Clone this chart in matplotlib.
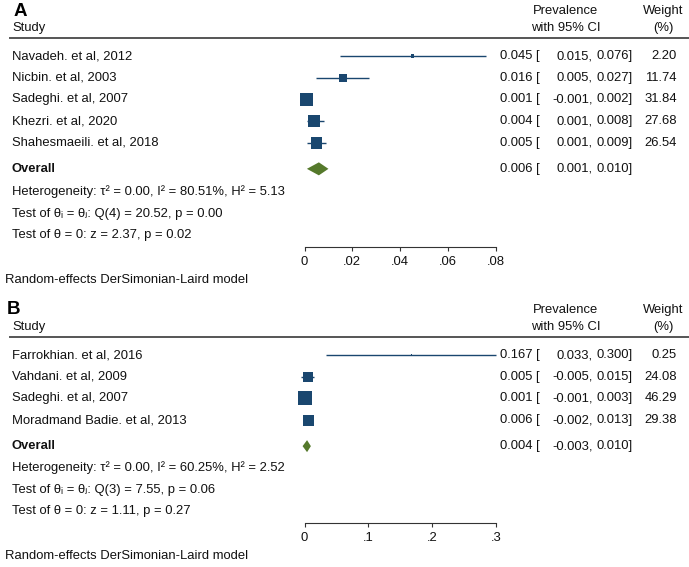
import matplotlib
matplotlib.use("Agg")
import matplotlib.pyplot as plt
import matplotlib.transforms as mtransforms
from matplotlib.patches import Polygon
import numpy as np

plt.rcParams['font.family'] = ['Liberation Sans', 'DejaVu Sans']

# ---------------- data ----------------
A_studies = ["Navadeh. et al, 2012", "Nicbin. et al, 2003", "Sadeghi. et al, 2007",
             "Khezri. et al, 2020", "Shahesmaeili. et al, 2018"]
A_est = [0.045, 0.016, 0.001, 0.004, 0.005]
A_lo = [0.015, 0.005, -0.001, 0.001, 0.001]
A_hi = [0.076, 0.027, 0.002, 0.008, 0.009]
A_w = [2.20, 11.74, 31.84, 27.68, 26.54]
A_overall = [0.006, 0.001, 0.010]
A_stats = ["Heterogeneity: \u03c4\u00b2 = 0.00, I\u00b2 = 80.51%, H\u00b2 = 5.13",
           "Test of \u03b8\u1d62 = \u03b8\u2c7c: Q(4) = 20.52, p = 0.00",
           "Test of \u03b8 = 0: z = 2.37, p = 0.02"]
A_ticks = [0, 0.02, 0.04, 0.06, 0.08]
A_ticklabels = ["0", ".02", ".04", ".06", ".08"]

B_studies = ["Farrokhian. et al, 2016", "Vahdani. et al, 2009", "Sadeghi. et al, 2007",
             "Moradmand Badie. et al, 2013"]
B_est = [0.167, 0.005, 0.001, 0.006]
B_lo = [0.033, -0.005, -0.001, -0.002]
B_hi = [0.300, 0.015, 0.003, 0.013]
B_w = [0.25, 24.08, 46.29, 29.38]
B_overall = [0.004, -0.003, 0.010]
B_stats = ["Heterogeneity: \u03c4\u00b2 = 0.00, I\u00b2 = 60.25%, H\u00b2 = 2.52",
           "Test of \u03b8\u1d62 = \u03b8\u2c7c: Q(3) = 7.55, p = 0.06",
           "Test of \u03b8 = 0: z = 1.11, p = 0.27"]
B_ticks = [0, 0.1, 0.2, 0.3]
B_ticklabels = ["0", ".1", ".2", ".3"]

model_note = "Random-effects DerSimonian-Laird model"

# ---------------- layout ----------------
W, H = 689, 567
fig = plt.figure(figsize=(W / 100, H / 100), dpi=100)
NAVY = "#1a476f"
GREEN = "#55792b"
TXT = "#111111"
FS = 9.4
STEP = 21.7

def fx(p):
    return p / W

def fy(p):
    return 1 - p / H

def panel(label, label_x, top, studies, est, lo, hi, w, overall, stats, ticks, ticklabels,
          size_k, overall_gap, stat_gap, dia_h):
    study_y = top + 17
    line_y = top + 28
    row0 = top + 46
    n = len(studies)
    ov_row = (n - 1) + overall_gap
    stat_rows = [ov_row + stat_gap + k for k in range(len(stats))]
    axis_row = stat_rows[-1] + 0.55
    y_top = (line_y - row0) / STEP
    ax_top_px = line_y
    ax_bot_px = row0 + axis_row * STEP
    x0p, x1p = 304.5, 496
    ax = fig.add_axes([fx(x0p), fy(ax_bot_px), fx(x1p - x0p), (ax_bot_px - ax_top_px) / H])
    ax.set_xlim(ticks[0], ticks[-1])
    ax.set_ylim(axis_row, y_top)
    ax.patch.set_alpha(0)
    for s in ["top", "right", "left"]:
        ax.spines[s].set_visible(False)
    ax.spines["bottom"].set_color("#333333")
    ax.spines["bottom"].set_linewidth(0.8)
    ax.set_yticks([])
    ax.set_xticks(ticks)
    ax.set_xticklabels(ticklabels, fontsize=FS, color=TXT)
    ax.tick_params(axis="x", length=3, width=0.8, color="#333333", pad=3.5)

    rows = np.arange(n)
    ax.hlines(rows, lo, hi, color=NAVY, lw=1.0, clip_on=False)
    sides_px = size_k * np.sqrt(np.array(w))
    sides_pt = sides_px * 0.72
    ax.scatter(est, rows, marker="s", s=sides_pt ** 2, color=NAVY, linewidths=0,
               clip_on=False, zorder=3)
    oe, ol, oh = overall
    hh = dia_h / STEP
    ax.add_patch(Polygon([(ol, ov_row), (oe, ov_row - hh), (oh, ov_row), (oe, ov_row + hh)],
                         closed=True, color=GREEN, lw=0, clip_on=False, zorder=3))

    tr = mtransforms.blended_transform_factory(fig.transFigure, ax.transData)
    def row_text(x, y, s, **kw):
        fig.text(fx(x), y, s, transform=tr, fontsize=FS, va="center", color=TXT, **kw)
    for i, name in enumerate(studies):
        row_text(12, i, name)
        row_text(500, i, f"{est[i]:.3f} [")
        row_text(592.5, i, f"{lo[i]:.3f},", ha="right")
        row_text(632.5, i, f"{hi[i]:.3f}]", ha="right")
        row_text(677, i, f"{w[i]:.2f}", ha="right")
    row_text(12, ov_row, "Overall", fontweight="bold")
    row_text(500, ov_row, f"{oe:.3f} [")
    row_text(592.5, ov_row, f"{ol:.3f},", ha="right")
    row_text(632.5, ov_row, f"{oh:.3f}]", ha="right")
    for r, s in zip(stat_rows, stats):
        row_text(12, r, s)

    # headers
    fig.text(fx(label_x), fy(top + 1), label, fontsize=13.5, fontweight="bold", va="center",
             color="black")
    fig.text(fx(12), fy(study_y + 1), "Study", fontsize=FS, va="center", color=TXT)
    fig.text(fx(566), fy(top + 1), "Prevalence", fontsize=FS, va="center", ha="center", color=TXT)
    fig.text(fx(566), fy(study_y + 1), "with 95% CI", fontsize=FS, va="center", ha="center",
             color=TXT)
    fig.text(fx(663), fy(top + 1), "Weight", fontsize=FS, va="center", ha="center", color=TXT)
    fig.text(fx(663), fy(study_y + 1), "(%)", fontsize=FS, va="center", ha="center", color=TXT)
    fig.add_artist(plt.Line2D([fx(10), fx(689)], [fy(line_y), fy(line_y)],
                              transform=fig.transFigure, color="#555555", lw=1.4))
    fig.text(fx(5), fy(ax_bot_px + 33), model_note, fontsize=FS, va="center", color=TXT)
    return ax

panel("A", 14, 10, A_studies, A_est, A_lo, A_hi, A_w, A_overall, A_stats, A_ticks, A_ticklabels,
      size_k=2.3, overall_gap=1.2, stat_gap=1.07, dia_h=6.5)
panel("B", 7, 309, B_studies, B_est, B_lo, B_hi, B_w, B_overall, B_stats, B_ticks, B_ticklabels,
      size_k=2.06, overall_gap=1.2, stat_gap=1.0, dia_h=6.0)

fig.savefig("out.png", dpi=100, facecolor="white")
